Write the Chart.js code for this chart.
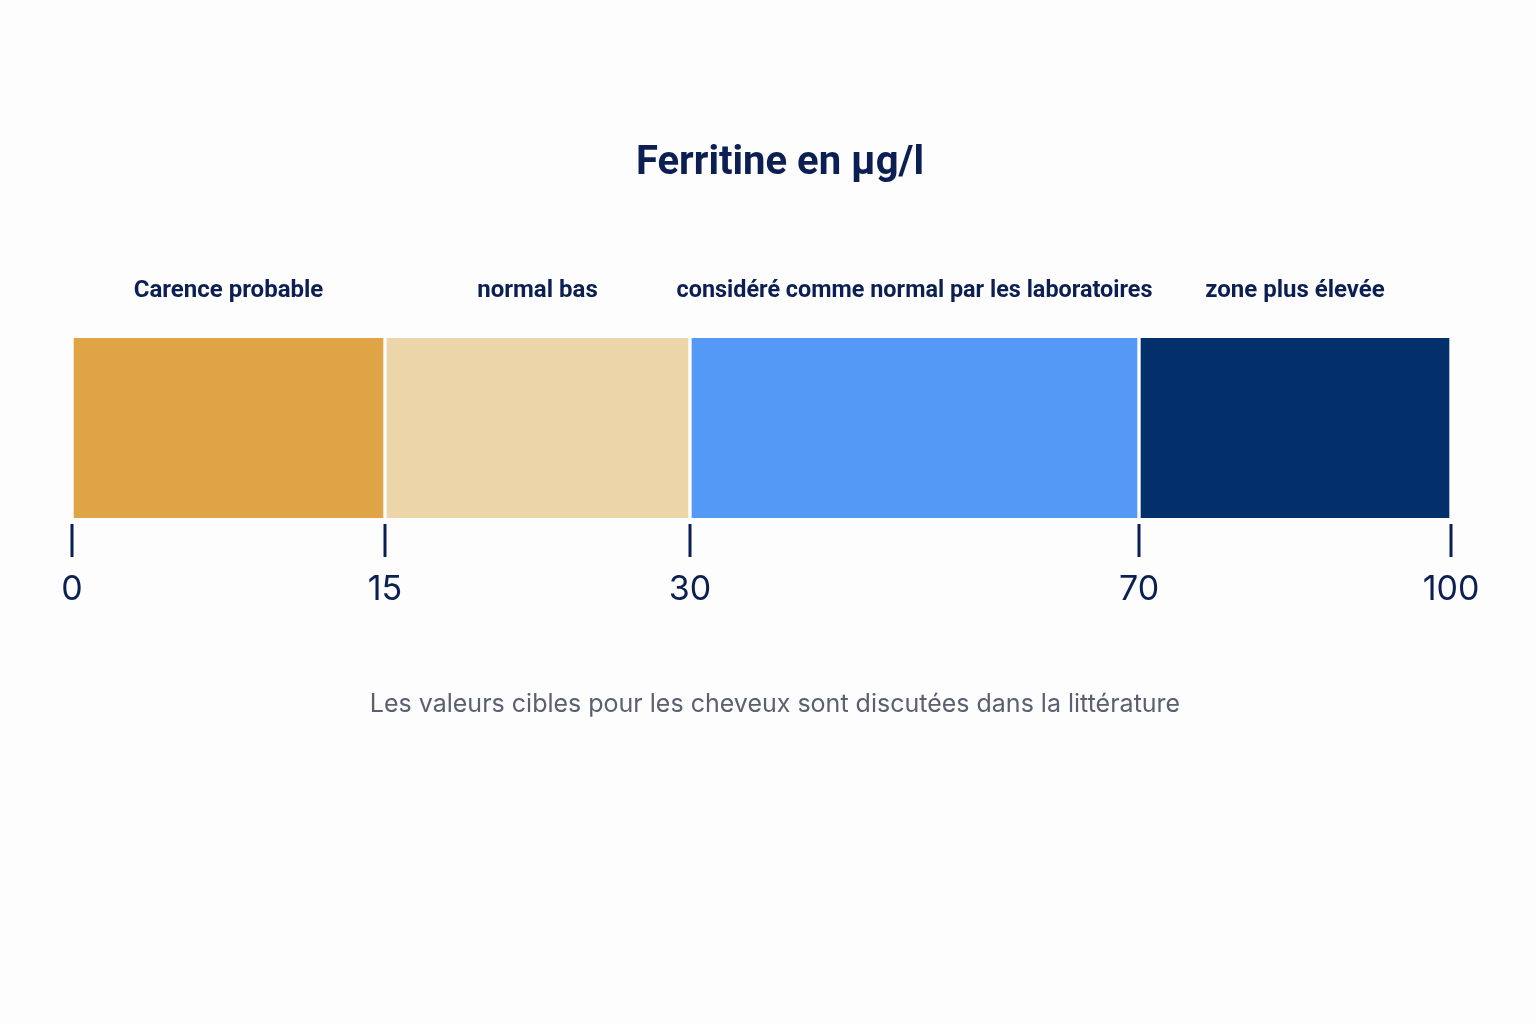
<!DOCTYPE html>
<html>
<head>
<meta charset="utf-8">
<script src="https://cdn.jsdelivr.net/npm/chart.js@4.4.1/dist/chart.umd.min.js"></script>
<style>
html,body{margin:0;padding:0;background:#fdfdfd;}
#wrap{width:1536px;height:1024px;}
</style>
</head>
<body>
<div id="wrap"><canvas id="c" width="1536" height="1024"></canvas></div>
<script>
const titleText = 'Ferritine en µg/l';
const zoneLabels = ['Carence probable', 'normal bas', 'considéré comme normal par les laboratoires', 'zone plus élevée'];
const zoneStarts = [0, 15, 30, 70];
const zoneEnds = [15, 30, 70, 100];
const tickValues = [0, 15, 30, 70, 100];
const zoneColors = ['#DFA445', '#ECD5A8', '#5599F7', '#03306B'];
const zoneDisplayWeights = [313, 305, 449, 312];
const footnote = 'Les valeurs cibles pour les cheveux sont discutées dans la littérature';

const NAVY = '#0B1F52';

// Piecewise scale: each zone gets its own visual width
class PiecewiseScale extends Chart.LinearScale {
  getPixelForValue(value) {
    if (value === null || value === undefined || isNaN(value)) return NaN;
    const bps = this.options.breakpoints;
    const w = this.options.weights;
    const total = w.reduce((a, b) => a + b, 0);
    let acc = 0;
    for (let i = 0; i < w.length; i++) {
      const a = bps[i], b = bps[i + 1];
      if (value <= b || i === w.length - 1) {
        const frac = (value - a) / (b - a);
        return this.getPixelForDecimal((acc + frac * w[i]) / total);
      }
      acc += w[i];
    }
    return this.getPixelForDecimal(1);
  }
}
PiecewiseScale.id = 'piecewise';
PiecewiseScale.defaults = Chart.LinearScale.defaults;
Chart.register(PiecewiseScale);

const extrasPlugin = {
  id: 'extras',
  afterDraw(chart) {
    const ctx = chart.ctx;
    const xs = chart.scales.x;
    const area = chart.chartArea;
    ctx.save();
    // title
    ctx.fillStyle = NAVY;
    ctx.textAlign = 'center';
    ctx.textBaseline = 'middle';
    ctx.font = 'bold 40px Roboto';
    ctx.fillText(titleText, 780, 164);
    // tick marks
    ctx.strokeStyle = NAVY;
    ctx.lineWidth = 3;
    tickValues.forEach(v => {
      const px = xs.getPixelForValue(v);
      ctx.beginPath();
      ctx.moveTo(px, area.bottom + 6);
      ctx.lineTo(px, area.bottom + 39);
      ctx.stroke();
    });
    // zone labels
    ctx.font = 'bold 24px Roboto';
    zoneLabels.forEach((lab, i) => {
      const cx = (xs.getPixelForValue(zoneStarts[i]) + xs.getPixelForValue(zoneEnds[i])) / 2;
      ctx.fillText(lab, cx, area.top - 47, 476);
    });
    // footnote
    ctx.fillStyle = '#5A6070';
    ctx.font = '25px Inter';
    ctx.fillText(footnote, 775, 704);
    ctx.restore();
  }
};

new Chart(document.getElementById('c'), {
  type: 'bar',
  data: {
    labels: ['Ferritine'],
    datasets: zoneLabels.map((lab, i) => ({
      label: lab,
      data: [[zoneStarts[i], zoneEnds[i]]],
      backgroundColor: zoneColors[i],
      borderColor: '#ffffff',
      borderWidth: {left: 2, right: 2, top: 0, bottom: 0},
      borderSkipped: false,
      barPercentage: 1,
      categoryPercentage: 1,
      grouped: false
    }))
  },
  options: {
    indexAxis: 'y',
    responsive: false,
    animation: false,
    devicePixelRatio: 1,
    layout: { padding: { left: 72, right: 85, top: 338, bottom: 0 } },
    plugins: {
      legend: { display: false },
      tooltip: { enabled: false },
      title: { display: false }
    },
    scales: {
      x: {
        type: 'piecewise',
        min: 0,
        max: 100,
        breakpoints: tickValues,
        weights: zoneDisplayWeights,
        afterBuildTicks(scale) { scale.ticks = tickValues.map(v => ({ value: v })); },
        grid: { display: false, drawTicks: false },
        border: { display: false },
        ticks: {
          color: NAVY,
          font: { family: 'Inter', size: 34 },
          padding: 51,
          maxRotation: 0,
          autoSkip: false
        },
        afterFit(scale) { scale.height = 1024 - 518; }
      },
      y: { display: false }
    }
  },
  plugins: [extrasPlugin]
});
</script>
</body>
</html>
